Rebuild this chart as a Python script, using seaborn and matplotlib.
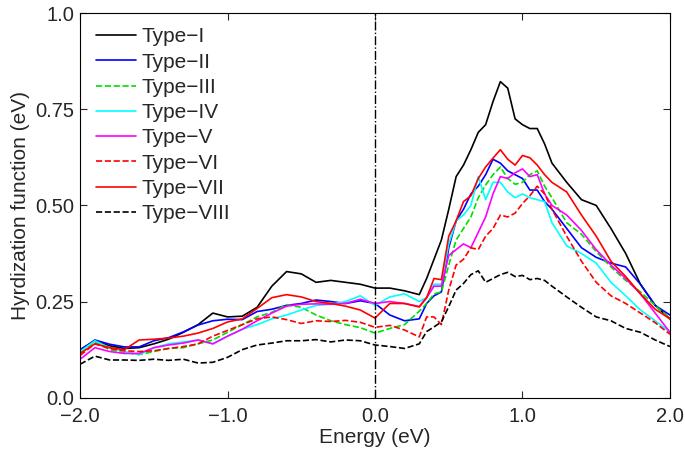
import numpy as np
import pandas as pd
import matplotlib
matplotlib.use("Agg")
import matplotlib.pyplot as plt
import seaborn as sns

# energy grid (eV), finer around the peak
energy = [-2.0, -1.9, -1.8, -1.7, -1.6, -1.5, -1.4, -1.3, -1.2, -1.1, -1.0, -0.9,
          -0.8, -0.7, -0.6, -0.5, -0.4, -0.3, -0.2, -0.1, 0.0, 0.1, 0.2, 0.3,
          0.35, 0.4, 0.45, 0.5, 0.55, 0.6, 0.65, 0.7, 0.75, 0.8, 0.85, 0.9,
          0.95, 1.0, 1.05, 1.1, 1.15, 1.2,
          1.3, 1.4, 1.5, 1.6, 1.7, 1.8, 1.9, 2.0]

type_1 = [0.125, 0.148, 0.135, 0.128, 0.13, 0.14, 0.152, 0.17, 0.19, 0.22, 0.21, 0.212,
          0.235, 0.29, 0.328, 0.322, 0.30, 0.305, 0.30, 0.295, 0.285, 0.285, 0.278, 0.268,
          0.31, 0.36, 0.41, 0.49, 0.575, 0.605, 0.645, 0.69, 0.71, 0.77, 0.822, 0.805,
          0.725, 0.71, 0.70, 0.70, 0.66, 0.61,
          0.56, 0.515, 0.50, 0.44, 0.375, 0.295, 0.24, 0.205]
type_2 = [0.124, 0.15, 0.139, 0.132, 0.132, 0.148, 0.156, 0.171, 0.189, 0.20, 0.204, 0.203,
          0.224, 0.23, 0.24, 0.245, 0.254, 0.25, 0.245, 0.252, 0.245, 0.215, 0.20, 0.205,
          0.245, 0.265, 0.275, 0.39, 0.46, 0.49, 0.53, 0.55, 0.58, 0.62, 0.61, 0.59,
          0.58, 0.57, 0.54, 0.54, 0.51, 0.49,
          0.44, 0.39, 0.365, 0.35, 0.34, 0.295, 0.24, 0.215]
type_3 = [0.12, 0.145, 0.125, 0.118, 0.112, 0.12, 0.128, 0.13, 0.14, 0.15, 0.17, 0.19,
          0.21, 0.222, 0.242, 0.235, 0.215, 0.20, 0.19, 0.182, 0.168, 0.18, 0.19, 0.225,
          0.245, 0.27, 0.275, 0.345, 0.41, 0.44, 0.47, 0.52, 0.553, 0.58, 0.60, 0.57,
          0.555, 0.56, 0.58, 0.59, 0.55, 0.52,
          0.455, 0.425, 0.38, 0.34, 0.305, 0.275, 0.24, 0.205]
type_4 = [0.12, 0.148, 0.13, 0.12, 0.112, 0.13, 0.14, 0.145, 0.15, 0.14, 0.16, 0.178,
          0.19, 0.205, 0.215, 0.228, 0.24, 0.243, 0.25, 0.265, 0.24, 0.262, 0.27, 0.25,
          0.26, 0.295, 0.295, 0.40, 0.46, 0.475, 0.50, 0.575, 0.515, 0.56, 0.56, 0.535,
          0.52, 0.53, 0.52, 0.515, 0.51, 0.455,
          0.395, 0.375, 0.35, 0.30, 0.265, 0.228, 0.20, 0.171]
type_5 = [0.10, 0.13, 0.12, 0.115, 0.115, 0.13, 0.137, 0.142, 0.15, 0.14, 0.16, 0.178,
          0.20, 0.22, 0.238, 0.243, 0.244, 0.243, 0.245, 0.256, 0.245, 0.25, 0.245, 0.237,
          0.26, 0.29, 0.29, 0.37, 0.385, 0.40, 0.39, 0.43, 0.47, 0.53, 0.575, 0.57,
          0.585, 0.595, 0.575, 0.58, 0.53, 0.50,
          0.475, 0.435, 0.385, 0.345, 0.31, 0.27, 0.22, 0.17]
type_6 = [0.11, 0.14, 0.128, 0.122, 0.12, 0.122, 0.128, 0.133, 0.14, 0.16, 0.175, 0.19,
          0.205, 0.21, 0.203, 0.193, 0.20, 0.198, 0.201, 0.196, 0.183, 0.188, 0.176, 0.158,
          0.21, 0.21, 0.19, 0.28, 0.345, 0.36, 0.39, 0.385, 0.42, 0.44, 0.475, 0.47,
          0.48, 0.505, 0.525, 0.55, 0.53, 0.49,
          0.42, 0.355, 0.30, 0.265, 0.245, 0.22, 0.195, 0.165]
type_7 = [0.115, 0.14, 0.13, 0.125, 0.15, 0.152, 0.155, 0.16, 0.168, 0.18, 0.197, 0.205,
          0.232, 0.26, 0.268, 0.262, 0.25, 0.245, 0.238, 0.228, 0.207, 0.245, 0.245, 0.236,
          0.26, 0.31, 0.307, 0.42, 0.46, 0.51, 0.525, 0.57, 0.60, 0.623, 0.645, 0.62,
          0.605, 0.63, 0.624, 0.605, 0.58, 0.56,
          0.535, 0.475, 0.42, 0.355, 0.315, 0.27, 0.23, 0.205]
type_8 = [0.087, 0.108, 0.098, 0.098, 0.097, 0.10, 0.097, 0.10, 0.09, 0.092, 0.105, 0.125,
          0.137, 0.142, 0.148, 0.148, 0.151, 0.145, 0.15, 0.148, 0.137, 0.133, 0.128, 0.14,
          0.172, 0.184, 0.197, 0.237, 0.28, 0.297, 0.32, 0.33, 0.30, 0.31, 0.32, 0.326,
          0.315, 0.318, 0.307, 0.31, 0.305, 0.29,
          0.262, 0.235, 0.21, 0.20, 0.18, 0.17, 0.15, 0.133]

labels = ["Type\u2212I", "Type\u2212II", "Type\u2212III", "Type\u2212IV",
          "Type\u2212V", "Type\u2212VI", "Type\u2212VII", "Type\u2212VIII"]
series = [type_1, type_2, type_3, type_4, type_5, type_6, type_7, type_8]
colors = ["black", "#0000ff", "#00dd00", "#00ffff", "#ff00ff", "#ff0000", "#ff0000", "black"]
styles = ["-", "-", "--", "-", "-", "--", "-", "--"]

xticks = [-2.0, -1.0, 0.0, 1.0, 2.0]
xticklabels = ["\u22122.0", "\u22121.0", "0.0", "1.0", "2.0"]
yticks = [0.0, 0.25, 0.5, 0.75, 1.0]
yticklabels = ["0.0", "0.25", "0.50", "0.75", "1.0"]

sns.set_style("ticks")
plt.rcParams["font.family"] = ["Liberation Sans", "DejaVu Sans"]

fig = plt.figure(figsize=(6.85, 4.55), dpi=100)
ax = fig.add_axes([0.117, 0.126, 0.861, 0.845])

for vals, lab, col, ls in zip(series, labels, colors, styles):
    df = pd.DataFrame({"Energy": energy, "H": vals})
    sns.lineplot(data=df, x="Energy", y="H", color=col, linestyle=ls,
                 linewidth=1.2, label=lab, ax=ax)

ax.axvline(0, color="black", linestyle="-.", linewidth=1.0)

ax.set_xlim(-2, 2)
ax.set_ylim(0, 1)
ax.set_xticks(xticks)
ax.set_xticklabels(xticklabels)
ax.set_yticks(yticks)
ax.set_yticklabels(yticklabels)
ax.tick_params(direction="in", top=True, right=True, labelsize=14.5, length=5, width=0.8)
ax.tick_params(axis="x", pad=7)
ax.tick_params(axis="y", pad=4)
for sp in ax.spines.values():
    sp.set_linewidth(0.8)
    sp.set_color("black")
ax.set_xlabel("Energy (eV)", fontsize=15, labelpad=1)
ax.set_ylabel("Hyrdization function (eV)", fontsize=15, labelpad=4)

ax.legend(loc="upper left", frameon=False, fontsize=15, handlelength=1.95,
          handletextpad=0.25, labelspacing=0.3, borderaxespad=0.0,
          bbox_to_anchor=(0.012, 0.985))

fig.savefig("out.png", dpi=100)
